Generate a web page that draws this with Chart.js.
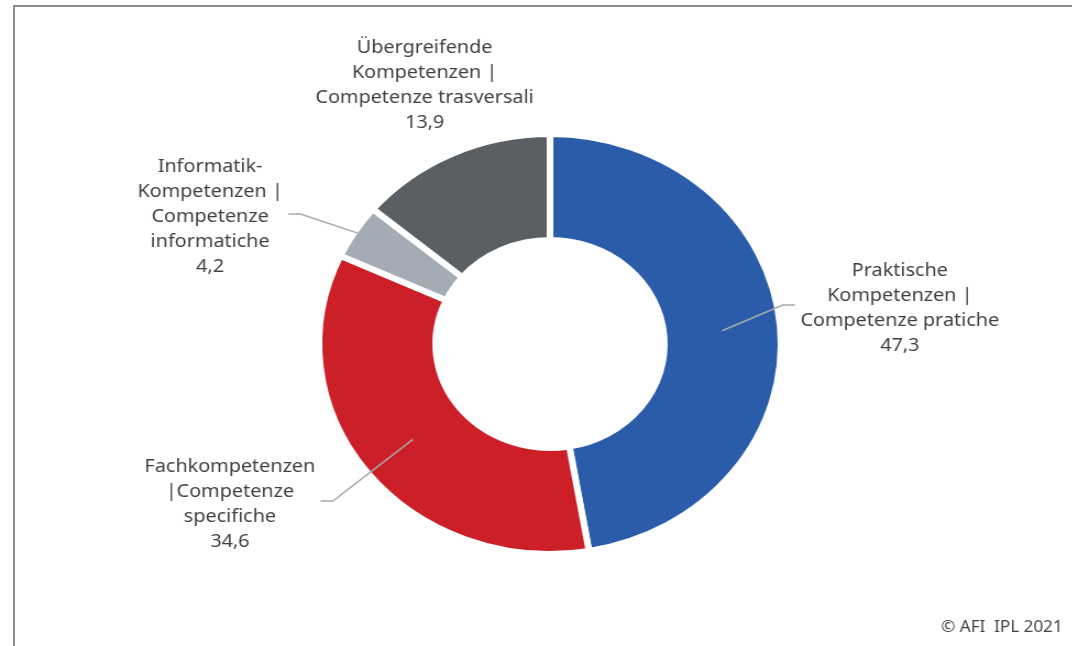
<!DOCTYPE html>
<html>
<head>
<meta charset="utf-8">
<script src="https://cdn.jsdelivr.net/npm/chart.js@4/dist/chart.umd.min.js"></script>
<style>
  body { margin: 0; background: #fff; overflow: hidden; }
  #frame { position: absolute; left: 13px; top: 5px; width: 1100px; height: 700px;
           border-left: 2px solid #8c8c8c; border-top: 2px solid #8c8c8c; }
  #wrap { position: absolute; left: 0; top: 0; width: 975px; height: 646px;
          transform: scaleX(1.1); transform-origin: 0 0; }
</style>
</head>
<body>
<div id="frame"></div>
<div id="wrap"><canvas id="myChart" width="975" height="646"></canvas></div>
<script>
    // Kompetenzen - Anteile in %
    const labels = [
        ['Praktische', 'Kompetenzen |', 'Competenze pratiche'],
        ['Fachkompetenzen', '|Competenze', 'specifiche'],
        ['Informatik-', 'Kompetenzen |', 'Competenze', 'informatiche'],
        ['Übergreifende', 'Kompetenzen |', 'Competenze trasversali'],
    ];
    const values = [47.3, 34.6, 4.2, 13.9];
    const colors = ['#2b5ca9', '#cc1f28', '#a3abb4', '#5b5f64'];

    // Position der Beschriftungen relativ zur Mitte
    const placement = [
        { dx: 318, dy: -36, side: 'right', leader: 0.5 },
        { dx: -291, dy: 160, side: 'left', leader: 0.5 },
        { dx: -309, dy: -127, side: 'left', leader: 1.0 },
        { dx: -114, dy: -259, side: 'none', leader: null },
    ];

    const labelPlugin = {
        id: 'labelPlugin',
        afterDraw(chart) {
            const ctx = chart.ctx;
            const arcs = chart.getDatasetMeta(0).data;
            const lineH = 25;
            ctx.save();
            ctx.font = '18px "Noto Sans"';
            ctx.textAlign = 'center';
            ctx.textBaseline = 'middle';
            arcs.forEach((arc, i) => {
                const p = placement[i];
                const lines = labels[i].concat([String(values[i]).replace('.', ',')]);
                const cx = arc.x + p.dx;
                const cy = arc.y + p.dy;
                const top = cy - (lines.length - 1) * lineH / 2;
                ctx.fillStyle = '#404040';
                let w = 0;
                lines.forEach((t, k) => {
                    ctx.fillText(t, cx, top + k * lineH);
                    w = Math.max(w, ctx.measureText(t).width);
                });
                if (p.leader !== null) {
                    const mid = (arc.startAngle + arc.endAngle) / 2;
                    const r = arc.innerRadius + 3 + (arc.outerRadius - arc.innerRadius - 6) * p.leader;
                    const sx = arc.x + Math.cos(mid) * r;
                    const sy = arc.y + Math.sin(mid) * r;
                    const dir = p.side === 'right' ? -1 : 1;
                    const ex = cx + dir * (w / 2 + 5);
                    const ey = cy - 3;
                    ctx.strokeStyle = '#a9a9a9';
                    ctx.lineWidth = 1.5;
                    ctx.beginPath();
                    ctx.moveTo(sx, sy);
                    ctx.lineTo(ex + dir * 11, ey);
                    ctx.lineTo(ex, ey);
                    ctx.stroke();
                }
            });
            ctx.font = '15.5px "Noto Sans"';
            ctx.textAlign = 'right';
            ctx.fillStyle = '#444';
            ctx.fillText('© AFI  IPL 2021', 966, 628);
            ctx.restore();
        }
    };

    const data = {
        labels: labels,
        datasets: [{
            data: values,
            backgroundColor: colors,
            borderColor: '#ffffff',
            borderWidth: 6,
        }]
    };

    const config = {
        type: 'doughnut',
        data: data,
        options: {
            responsive: false,
            animation: false,
            events: [],
            radius: 210,
            cutout: '49.5%',
            layout: { padding: { left: 25, right: 0, top: 42, bottom: 0 } },
            plugins: {
                legend: { display: false },
                tooltip: { enabled: false }
            }
        },
        plugins: [labelPlugin]
    };

    const myChart = new Chart(
        document.getElementById('myChart'),
        config
    );
</script>
</body>
</html>
